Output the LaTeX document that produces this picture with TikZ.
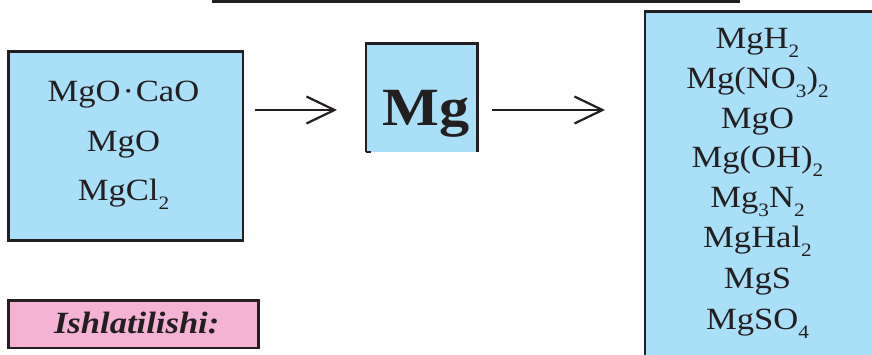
\documentclass[tikz,border=0pt]{standalone}
\usepackage{fontspec}
\setmainfont{Liberation Serif}[FakeStretch=1.12]
\usetikzlibrary{arrows.meta}
\definecolor{boxblue}{RGB}{170,223,248}
\definecolor{boxpink}{RGB}{244,178,212}
\definecolor{ink}{RGB}{35,31,32}
\newcommand{\chsub}[1]{\raisebox{-9bp}{\fontsize{19}{19}\selectfont #1}}
\tikzset{
  bluebox/.style={draw=ink, line width=2.5bp, fill=boxblue, inner sep=0pt},
  chem/.style={anchor=base, inner sep=0pt, font=\fontsize{31}{31}\selectfont, text=ink},
  arr/.style={draw=ink, line width=2.2bp, -{Straight Barb[length=28bp,width=27bp,line width=2.2bp]}},
}
\begin{document}
\begin{tikzpicture}[x=1bp,y=-1bp]
\useasboundingbox (0,0) rectangle (872,354);
\clip (0,0) rectangle (872,354);
% top rule
\draw[ink, line width=2.7bp] (212,1.3) -- (740,1.3);
% left source box
\node[bluebox, minimum width=234bp, minimum height=189bp] (src) at (125.75,145.75) {};
\node[chem] (s1) at (123.5,101.7) {MgO\hspace{0.06em}·\hspace{0.06em}CaO};
\node[chem] (s2) at (123.5,151.7) {MgO};
\node[chem] (s3) at (123.5,200) {MgCl\chsub{2}};
% Mg box
\node[fill=boxblue, minimum width=111bp, minimum height=108bp, inner sep=0pt] (mg) at (421.6,97.9) {};
\draw[ink, line width=2.5bp] (mg.south west) -- (mg.north west) -- (mg.north east) -- (mg.south east);
\draw[ink, line width=2bp] (mg.south west) -- ++(5,0);
\node[anchor=base, inner sep=0pt, font=\fontsize{54}{54}\selectfont\bfseries, text=ink] (mgt) at (425.7,125) {Mg};
% right box
\node[bluebox, minimum width=300bp, minimum height=400bp, anchor=north west] (dst) at (643.5,10.3) {};
\node[chem] (d1) at (757.5,48.3) {MgH\chsub{2}};
\node[chem] (d2) at (757.5,88.3) {Mg(NO\chsub{3})\chsub{2}};
\node[chem] (d3) at (757.5,128.3) {MgO};
\node[chem] (d4) at (757.5,167.5) {Mg(OH)\chsub{2}};
\node[chem] (d5) at (757.5,207) {Mg\chsub{3}N\chsub{2}};
\node[chem] (d6) at (757.5,247.5) {MgHal\chsub{2}};
\node[chem] (d7) at (757.5,288) {MgS};
\node[chem] (d8) at (757.5,329) {MgSO\chsub{4}};
% arrows
\coordinate (a1s) at (255,110);
\coordinate (a1e) at (337,110);
\coordinate (a2s) at (492,110);
\coordinate (a2e) at (605,110);
\draw[arr] (a1s) -- (a1e);
\draw[arr] (a2s) -- (a2e);
% pink label
\node[draw=ink, line width=2.5bp, fill=boxpink, minimum width=249.6bp, minimum height=47.1bp, inner sep=0pt] (use) at (133.5,324.25) {};
\node[anchor=base, inner sep=0pt, font=\fontsize{31}{31}\selectfont\bfseries\itshape, text=ink] (uset) at (136.7,333) {Ishlatilishi:};
\end{tikzpicture}
\end{document}
